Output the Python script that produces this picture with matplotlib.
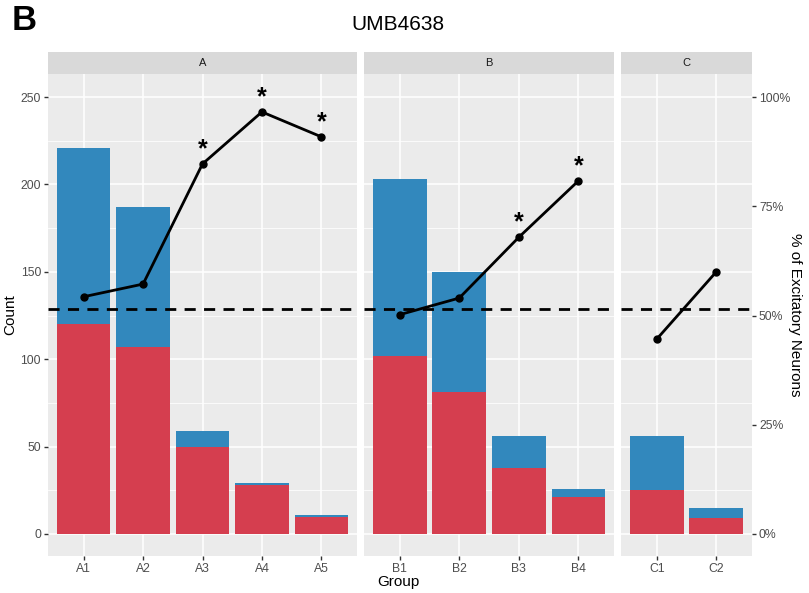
import matplotlib.pyplot as plt
import numpy as np

# data
panels = ["A", "B", "C"]
groups = {
    "A": ["A1", "A2", "A3", "A4", "A5"],
    "B": ["B1", "B2", "B3", "B4"],
    "C": ["C1", "C2"],
}
total = {
    "A": [221, 187, 59, 29, 11],
    "B": [203, 150, 56, 26],
    "C": [56, 15],
}
excit = {
    "A": [120, 107, 50, 28, 10],
    "B": [102, 81, 38, 21],
    "C": [25, 9],
}
pct = {
    "A": [54.3, 57.2, 84.7, 96.6, 90.9],
    "B": [50.2, 54.0, 67.9, 80.8],
    "C": [44.6, 60.0],
}
signif = {
    "A": [False, False, True, True, True],
    "B": [False, False, True, True],
    "C": [False, False],
}
baseline_pct = 51.5

RED = "#D53E4F"
BLUE = "#3288BD"
PANEL_BG = "#EBEBEB"
STRIP_BG = "#D9D9D9"
TXT = "#4D4D4D"
TICK = "#333333"

plt.rcParams["font.family"] = ["Liberation Sans", "DejaVu Sans"]

W, H = 809, 593
fig = plt.figure(figsize=(W / 100, H / 100), dpi=100)

scale = 2.5  # 100% maps onto 250 counts
ylo, yhi = -12.6, 263.2
top_px, bot_px = 74, 556
strip_top = 52
lefts = {"A": 48, "B": 364, "C": 621}
rights = {"A": 357, "B": 614, "C": 752}

axes = {}
for p in panels:
    l, r = lefts[p], rights[p]
    ax = fig.add_axes([l / W, 1 - bot_px / H, (r - l) / W, (bot_px - top_px) / H])
    axes[p] = ax
    n = len(groups[p])
    x = np.arange(1, n + 1)
    ax.set_facecolor(PANEL_BG)
    ax.set_xlim(0.4, n + 0.6)
    ax.set_ylim(ylo, yhi)
    # grid
    for yv in [25, 75, 125, 175, 225]:
        ax.axhline(yv, color="white", lw=0.55, zorder=0)
    for yv in [0, 50, 100, 150, 200, 250]:
        ax.axhline(yv, color="white", lw=1.1, zorder=0)
    for xv in x:
        ax.axvline(xv, color="white", lw=1.1, zorder=0)
    for s in ax.spines.values():
        s.set_visible(False)

    ax.bar(x, total[p], width=0.9, color=BLUE, zorder=2)
    ax.bar(x, excit[p], width=0.9, color=RED, zorder=3)

    ax.axhline(baseline_pct * scale, color="black", lw=2, ls=(0, (4, 3)), zorder=4)
    yl = np.array(pct[p]) * scale
    ax.plot(x, yl, color="black", lw=2, marker="o", ms=5, zorder=5)
    for xi, yi, s in zip(x, yl, signif[p]):
        if s:
            ax.text(xi, yi + 1.5, "*", ha="center", va="bottom", fontsize=18,
                    fontweight="bold", zorder=6)

    ax.set_xticks(x)
    ax.set_xticklabels(groups[p])
    ax.tick_params(axis="x", length=3, width=1, color=TICK, labelcolor=TXT, labelsize=8.8, pad=2)
    if p == "A":
        ax.set_yticks([0, 50, 100, 150, 200, 250])
        ax.tick_params(axis="y", length=3, width=1, color=TICK, labelcolor=TXT, labelsize=8.8, pad=2)
    else:
        ax.set_yticks([])

    # strip
    sax = fig.add_axes([l / W, 1 - top_px / H, (r - l) / W, (top_px - strip_top) / H])
    sax.set_facecolor(STRIP_BG)
    sax.set_xticks([])
    sax.set_yticks([])
    for s in sax.spines.values():
        s.set_visible(False)
    sax.text(0.5, 0.5, p, ha="center", va="center", fontsize=8, color="#1A1A1A", transform=sax.transAxes)

sec = axes["C"].secondary_yaxis("right", functions=(lambda y: y / scale, lambda v: v * scale))
sec.set_yticks([0, 25, 50, 75, 100])
sec.set_yticklabels(["0%", "25%", "50%", "75%", "100%"])
sec.tick_params(length=3, width=1, color=TICK, labelcolor=TXT, labelsize=8.8, pad=2)
for s in sec.spines.values():
    s.set_visible(False)

fig.text(398 / W, 1 - 582 / H, "Group", ha="center", va="center", fontsize=11)
fig.text(10 / W, 1 - 315 / H, "Count", ha="center", va="center", rotation=90, fontsize=11)
fig.text(795 / W, 1 - 315 / H, "% of Excitatory Neurons", ha="center", va="center", rotation=270, fontsize=11)
fig.text(398 / W, 1 - 25 / H, "UMB4638", ha="center", va="center", fontsize=15)
fig.text(12 / W, 1 - 21 / H, "B", ha="left", va="center", fontsize=25, fontweight="bold")

fig.savefig("out.png", dpi=100)
